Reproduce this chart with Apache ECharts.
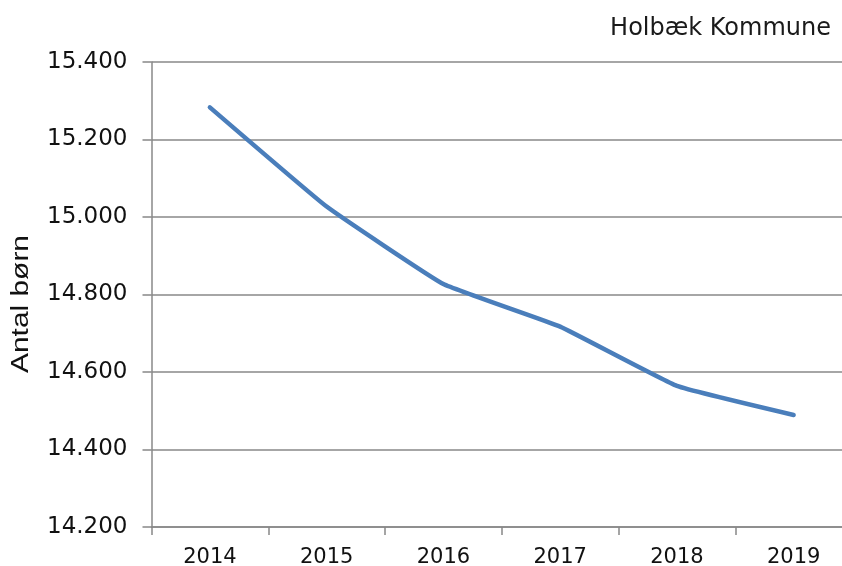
<!DOCTYPE html>
<html>
<head>
<meta charset="utf-8">
<script src="https://cdn.jsdelivr.net/npm/echarts@6/dist/echarts.min.js"></script>
<style>
  html, body { margin: 0; padding: 0; background: #ffffff; }
  #chart { width: 842px; height: 566px; }
</style>
</head>
<body>
<div id="chart"></div>
<script>
// data
const years = ['2014', '2015', '2016', '2017', '2018', '2019']
const children = [15283, 15027, 14827, 14717, 14564, 14489]
const yMin = 14200
const yMax = 15400
const yStep = 200

const gray = '#888888'
const font = 'DejaVu Sans, Verdana, sans-serif'

// Danish number format: 15.400
const fmt = (v) => String(v).replace(/\B(?=(\d{3})+(?!\d))/g, '.')

const chart = echarts.init(document.getElementById('chart'))

const option = {
  animation: false,
  title: {
    text: 'Holbæk Kommune',
    right: 6,
    top: 12,
    textStyle: {
      fontFamily: font,
      fontSize: 24,
      fontWeight: 'normal',
      color: '#1a1a1a',
    },
  },
  // y axis title, drawn a bit stretched like the original
  graphic: [
    {
      type: 'text',
      x: 22,
      y: 304,
      rotation: Math.PI / 2,
      scaleX: 1.3,
      style: {
        text: 'Antal børn',
        fontFamily: 'Liberation Sans, Arial, sans-serif',
        fontSize: 23,
        fill: '#111111',
        align: 'center',
        verticalAlign: 'middle',
      },
    },
  ],
  grid: {
    left: 151.5,
    right: -10,
    top: 62,
    bottom: 39,
    outerBoundsMode: 'none',
  },
  xAxis: {
    type: 'category',
    data: years,
    boundaryGap: true,
    axisLine: { lineStyle: { color: gray, width: 1.5 } },
    axisTick: { show: true, length: 8, lineStyle: { color: gray, width: 1.5 } },
    axisLabel: {
      color: '#111111',
      fontFamily: font,
      fontSize: 21,
      margin: 20,
    },
  },
  yAxis: {
    type: 'value',
    min: yMin,
    max: yMax,
    interval: yStep,
    axisLine: { show: true, lineStyle: { color: gray, width: 1.5 } },
    axisTick: { show: true, length: 9, lineStyle: { color: gray, width: 1.5 } },
    splitLine: { lineStyle: { color: gray, width: 1.5 } },
    axisLabel: {
      color: '#111111',
      fontFamily: font,
      fontSize: 23,
      margin: 24,
      formatter: fmt,
    },
  },
  series: [
    {
      name: 'Antal børn',
      type: 'line',
      data: children,
      showSymbol: false,
      smooth: 0.1,
      lineStyle: { color: '#4a7ebb', width: 4.5, cap: 'round' },
    },
  ],
}

chart.setOption(option)
</script>
</body>
</html>
